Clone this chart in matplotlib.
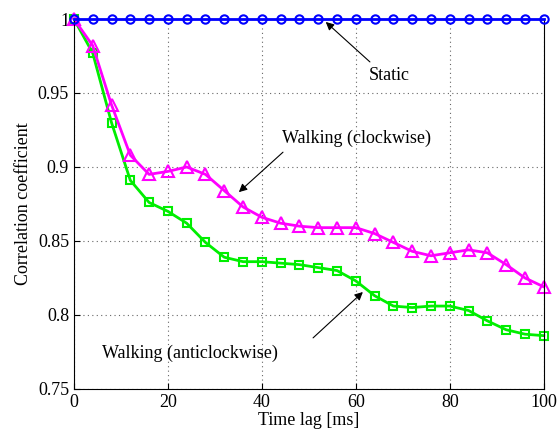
import numpy as np
import matplotlib.pyplot as plt

plt.rcParams['font.family'] = ['Liberation Serif', 'DejaVu Serif']

# time lag [ms]
lag = np.arange(0, 101, 4)

static = [1.0] * len(lag)

walk_cw = [1.0, 0.982, 0.942, 0.908, 0.895, 0.897, 0.900, 0.895, 0.884, 0.873,
           0.866, 0.862, 0.860, 0.859, 0.859, 0.859, 0.855, 0.849, 0.843, 0.840,
           0.842, 0.844, 0.842, 0.834, 0.825, 0.819]

walk_acw = [1.0, 0.977, 0.930, 0.891, 0.876, 0.870, 0.862, 0.849, 0.839, 0.836,
            0.836, 0.835, 0.834, 0.832, 0.830, 0.823, 0.813, 0.806, 0.805, 0.806,
            0.806, 0.803, 0.796, 0.790, 0.787, 0.786]

fig = plt.figure(figsize=(5.6, 4.37), dpi=100)
ax = fig.add_axes([0.132, 0.110, 0.839, 0.8465])

ax.plot(lag, walk_acw, '-s', color='#00ee00', lw=2, ms=6, mfc='none', mew=1.5, clip_on=False)
ax.plot(lag, walk_cw, '-^', color='#ff00ff', lw=2, ms=8, mfc='none', mew=1.5, clip_on=False)
ax.plot(lag, static, '-o', color='#0000ff', lw=2, ms=6, mfc='none', mew=1.5, clip_on=False, zorder=5)

ax.set_xlim(0, 100)
ax.set_ylim(0.75, 1)
ax.set_xticks([0, 20, 40, 60, 80, 100])
ax.set_yticks([0.75, 0.8, 0.85, 0.9, 0.95, 1])
ax.set_yticklabels(['0.75', '0.8', '0.85', '0.9', '0.95', '1'])
ax.grid(True, linestyle=(0, (1, 3)), color='#666666', lw=0.8)
ax.tick_params(direction='in', labelsize=13, length=4)
ax.set_xlabel('Time lag [ms]', fontsize=13, labelpad=1)
ax.set_ylabel('Correlation coefficient', fontsize=13)

arr = dict(arrowstyle='-|>', color='k', lw=0.8, mutation_scale=12, shrinkA=0, shrinkB=0)
ax.annotate('', xy=(53.6, 0.998), xytext=(63, 0.971), arrowprops=arr)
ax.text(67.2, 0.962, 'Static', fontsize=13, ha='center', va='center')
ax.annotate('', xy=(35.1, 0.883), xytext=(44.5, 0.910), arrowprops=arr)
ax.text(60.2, 0.9196, 'Walking (clockwise)', fontsize=13, ha='center', va='center')
ax.annotate('', xy=(61.5, 0.8155), xytext=(50.9, 0.7845), arrowprops=arr)
ax.text(24.7, 0.7743, 'Walking (anticlockwise)', fontsize=13, ha='center', va='center')

plt.savefig('out.png', dpi=100)
